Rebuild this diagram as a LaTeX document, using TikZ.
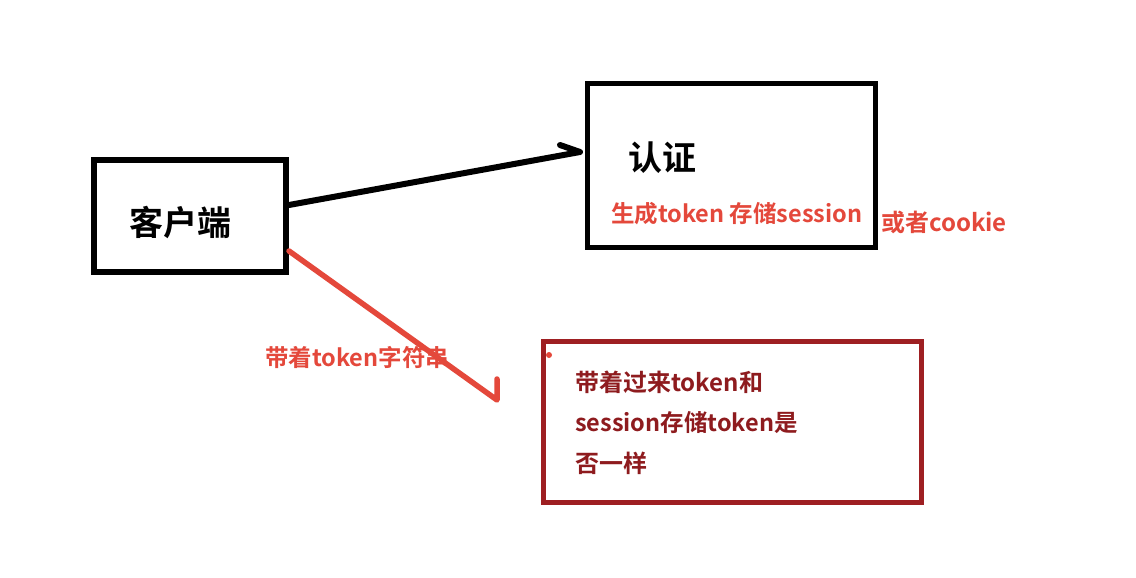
\documentclass[tikz,border=0pt]{standalone}
\usepackage{fontspec}
\setmainfont{Noto Sans CJK SC}[BoldFont={Noto Sans CJK SC Bold}]
\definecolor{notered}{HTML}{E4483B}
\definecolor{boxred}{HTML}{9E1F22}
\definecolor{textred}{HTML}{8E1B1E}
\begin{document}
\begin{tikzpicture}[x=1pt,y=-1pt,
  blackbox/.style={draw=black,line width=6pt,inner sep=0pt},
  redbox/.style={draw=boxred,line width=5pt,inner sep=0pt},
  bigtext/.style={font=\fontsize{34}{38}\selectfont\bfseries,inner sep=0pt},
  notetext/.style={font=\fontsize{23.5}{26}\selectfont\bfseries,text=notered,inner sep=0pt,anchor=west},
  boxtext/.style={font=\fontsize{24}{27}\selectfont\bfseries,text=textred,inner sep=0pt,anchor=west},
  blackarrow/.style={draw=black,line width=6pt,line cap=round,line join=round},
  redarrow/.style={draw=notered,line width=5.5pt,line cap=round,line join=round}]
\useasboundingbox (0,0) rectangle (1136,578);
\fill[white] (0,0) rectangle (1136,578);

% boxes
\node[blackbox,minimum width=192pt,minimum height=112pt] (client) at (190,216) {};
\node[blackbox,line width=5pt,minimum width=288pt,minimum height=164pt] (auth) at (731.5,165.5) {};
\node[redbox,minimum width=378pt,minimum height=161pt] (check) at (732.5,422) {};

% labels
\node[bigtext] (clientlabel) at (180,222) {客户端};
\node[bigtext,anchor=west] (authlabel) at (628,158) {认证};
\node[notetext] (gen) at (611,214) {生成token 存储session};
\node[notetext,font=\fontsize{24}{27}\selectfont\bfseries] (cookie) at (881,222) {或者cookie};
\node[notetext] (carry) at (265,357) {带着token字符串};
\node[boxtext] (l1) at (575,382) {带着过来token和};
\node[boxtext,font=\fontsize{23.5}{26}\selectfont\bfseries] (l2) at (575,423) {session存储token是};
\node[boxtext] (l3) at (575,463) {否一样};
\fill[notered] (549,355) circle (3);

% connectors
\coordinate (tip1) at (580,152);
\coordinate (barb1) at (560,145);
\draw[blackarrow] (client.east |- 0,205) -- (tip1) -- (barb1);
\coordinate (tip2) at (497,400);
\coordinate (barb2) at (497,379);
\draw[redarrow] (client.east |- 0,251) -- (tip2) -- (barb2);
\end{tikzpicture}
\end{document}
